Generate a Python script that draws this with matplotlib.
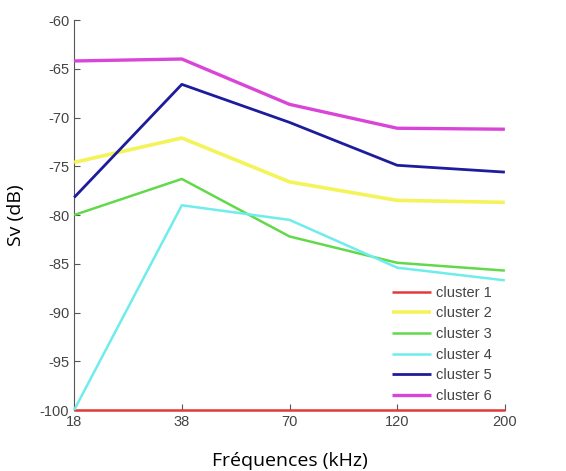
import matplotlib
matplotlib.use("Agg")
import matplotlib.pyplot as plt

plt.rcParams["axes.unicode_minus"] = False

freqs = ["18", "38", "70", "120", "200"]
labels = ["cluster 1", "cluster 2", "cluster 3", "cluster 4", "cluster 5", "cluster 6"]
cluster1 = [-100, -100, -100, -100, -100]
cluster2 = [-74.6, -72.1, -76.6, -78.5, -78.7]
cluster3 = [-80.0, -76.3, -82.2, -84.9, -85.7]
cluster4 = [-100, -79.0, -80.5, -85.4, -86.7]
cluster5 = [-78.2, -66.6, -70.5, -74.9, -75.6]
cluster6 = [-64.2, -64.0, -68.65, -71.1, -71.2]
yticks = [-100, -95, -90, -85, -80, -75, -70, -65, -60]

series = [cluster1, cluster2, cluster3, cluster4, cluster5, cluster6]
colors = ["#e23a3a", "#f4f35a", "#62d94a", "#6fecec", "#1c1c9c", "#d945d9"]
widths = [1.8, 2.6, 1.8, 1.8, 2.0, 2.4]

fig = plt.figure(figsize=(5.66, 4.71), dpi=100)
ax = fig.add_axes([0.131, 0.1295, 0.761, 0.828])
x = list(range(len(freqs)))
for s, c, w, l in zip(series, colors, widths, labels):
    ax.plot(x, s, color=c, lw=w, label=l, clip_on=False, solid_capstyle="butt",
            zorder=3)

ax.set_xlim(0, len(freqs) - 1)
ax.set_ylim(-100, -60)
ax.set_xticks(x)
ax.set_xticklabels(freqs)
ax.set_yticks(yticks)
ax.spines["top"].set_visible(False)
ax.spines["right"].set_visible(False)
for sp in ["left", "bottom"]:
    ax.spines[sp].set_color("#555555")
    ax.spines[sp].set_linewidth(0.8)
ax.tick_params(direction="in", length=4, colors="#555555", labelsize=10.5,
               labelcolor="#444444")
for t in ax.get_xticklabels() + ax.get_yticklabels():
    t.set_family("Liberation Sans")
ax.set_xlabel("Fréquences (kHz)", fontsize=14, family="Open Sans", labelpad=17)
ax.set_ylabel("Sv (dB)", fontsize=14, family="Open Sans", labelpad=11)

leg = ax.legend(loc="lower right", frameon=False, fontsize=10.5, handlelength=2.7,
                handletextpad=0.35, labelspacing=0.45, bbox_to_anchor=(1.0, -0.015))
for t in leg.get_texts():
    t.set_family("Liberation Sans")
    t.set_color("#444444")

fig.savefig("out.png", dpi=100)
